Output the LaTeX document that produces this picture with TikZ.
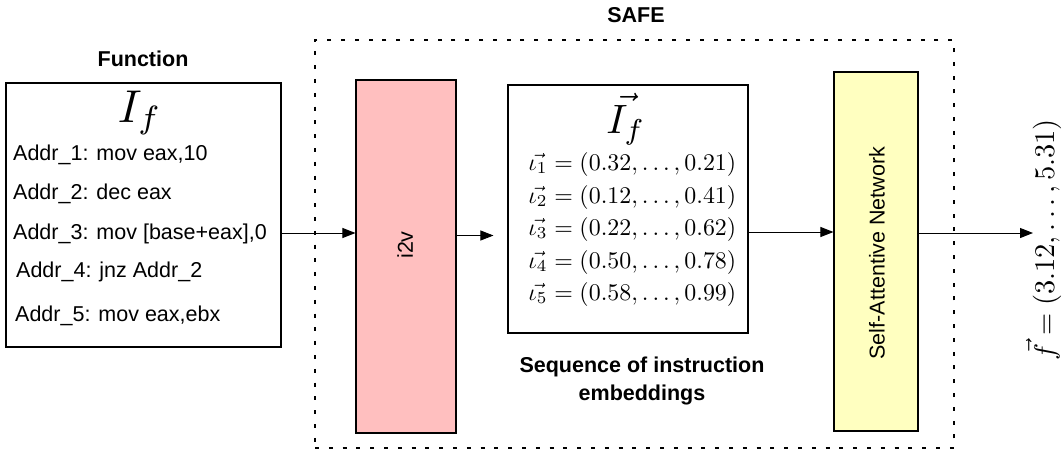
\RequirePackage{fix-cm}
\documentclass[tikz,border=0pt]{standalone}
\usepackage{fontspec}
\newfontfamily\hv{Liberation Sans}
\usetikzlibrary{arrows.meta}
\begin{document}
\begin{tikzpicture}[x=1pt,y=-1pt,
  boxb/.style={draw, line width=1.1pt, inner sep=0pt},
  lbl/.style={inner sep=0pt, font=\fontsize{21.5}{26}\selectfont\hv},
  blbl/.style={inner sep=0pt, font=\fontsize{21.5}{26}\selectfont\hv\bfseries},
  mth/.style={inner sep=0pt, scale=2.39, transform shape},
  arr/.style={-{Triangle[length=13pt,width=10pt]}, line width=1pt},
  safebox/.style={draw, line width=2.8pt, dash pattern=on 4pt off 9.8pt, inner sep=0pt}]
\useasboundingbox (0,0) rectangle (1062,450);
% SAFE dotted frame
\node[safebox, minimum width=639pt, minimum height=408pt] (safe) at (634.5,244) {};
\node[blbl] (safelbl) at (636,15) {SAFE};
% function box
\node[blbl] (funclbl) at (143,59) {Function};
\node[boxb, minimum width=275pt, minimum height=264pt] (func) at (143.5,215) {};
\node[inner sep=0pt, scale=4.6, transform shape, anchor=base] (If) at (140,122) {$I_f$};
\node[lbl, anchor=base west] (a1) at (13,160) {Addr\_1: mov eax,10};
\node[lbl, anchor=base west] (a2) at (13,199) {Addr\_2: dec eax};
\node[lbl, anchor=base west] (a3) at (13,239) {Addr\_3: mov [base+eax],0};
\node[lbl, anchor=base west] (a4) at (16,277) {Addr\_4: jnz Addr\_2};
\node[lbl, anchor=base west] (a5) at (15,321) {Addr\_5: mov eax,ebx};
% i2v
\node[boxb, fill={rgb,255:red,255;green,191;blue,191}, minimum width=100pt, minimum height=353pt] (i2v) at (406,256.5) {};
\node[lbl, rotate=90] (i2vt) at (405,245) {i2v};
% embeddings
\node[boxb, minimum width=240pt, minimum height=248pt] (emb) at (628,209) {};
\node[inner sep=0pt, scale=4.1, transform shape, anchor=base] (Ifv) at (626,133) {$\vec{I_f}$};
\node[mth, anchor=base west] (e1) at (528,170) {$\vec{\iota_1} = (0.32, \ldots, 0.21)$};
\node[mth, anchor=base west] (e2) at (528,203) {$\vec{\iota_2} = (0.12, \ldots, 0.41)$};
\node[mth, anchor=base west] (e3) at (528,235) {$\vec{\iota_3} = (0.22, \ldots, 0.62)$};
\node[mth, anchor=base west] (e4) at (528,268) {$\vec{\iota_4} = (0.50, \ldots, 0.78)$};
\node[mth, anchor=base west] (e5) at (528,300) {$\vec{\iota_5} = (0.58, \ldots, 0.99)$};
\node[blbl, anchor=base] (seq1) at (642,372) {Sequence of instruction};
\node[blbl, anchor=base] (seq2) at (642,400) {embeddings};
% self-attentive network
\node[boxb, fill={rgb,255:red,255;green,255;blue,192}, minimum width=84pt, minimum height=359pt] (san) at (876,251.5) {};
\node[lbl, rotate=90] (sant) at (877,253) {Self-Attentive Network};
% output
\node[inner sep=0pt, rotate=90, scale=2.85, transform shape, anchor=base] (fv) at (1054,240) {$\vec{f} = (3.12, \ldots, 5.31)$};
\coordinate (ya) at (0,233);
\coordinate (yb) at (0,235.5);
\coordinate (yc) at (0,232);
\coordinate (out) at (1033,233);
% arrows
\draw[arr] (func.east |- ya) -- (i2v.west |- ya);
\draw[arr, shorten >=14pt] (i2v.east |- yb) -- (emb.west |- yb);
\draw[arr] (emb.east |- yc) -- (san.west |- yc);
\draw[arr] (san.east |- ya) -- (out);
\end{tikzpicture}
\end{document}
